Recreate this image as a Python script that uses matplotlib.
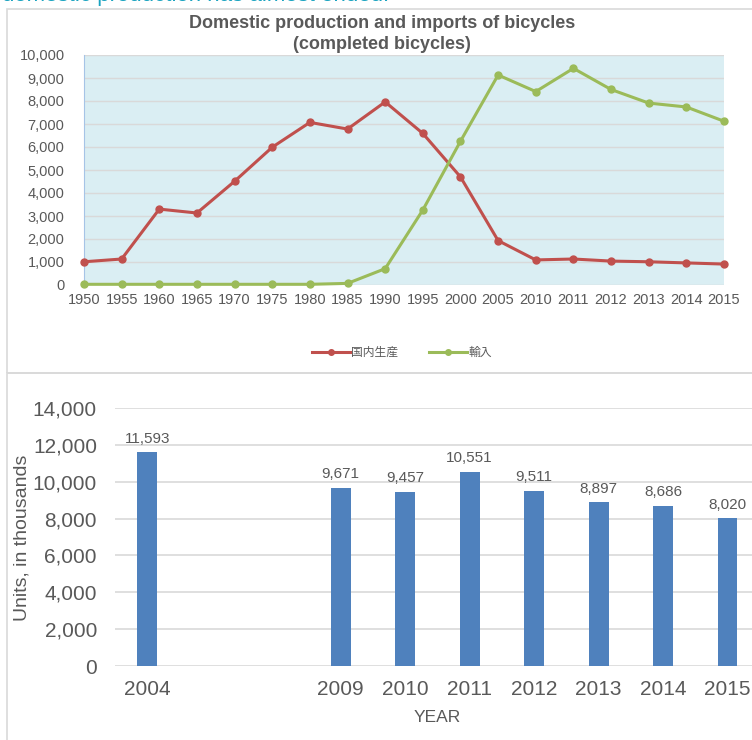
import numpy as np
import matplotlib
matplotlib.use('Agg')
import matplotlib.pyplot as plt
from matplotlib.patches import Rectangle

plt.rcParams['font.family'] = ['Liberation Sans', 'Noto Sans CJK JP', 'DejaVu Sans']

# top chart data (thousands of bicycles)
years_top = ['1950', '1955', '1960', '1965', '1970', '1975', '1980', '1985', '1990',
             '1995', '2000', '2005', '2010', '2011', '2012', '2013', '2014', '2015']
domestic = [1010, 1130, 3300, 3130, 4510, 5990, 7070, 6780, 7960,
            6590, 4700, 1930, 1090, 1130, 1040, 1010, 960, 910]
imports = [30, 30, 30, 30, 30, 30, 30, 70, 710,
           3260, 6250, 9130, 8410, 9420, 8500, 7910, 7740, 7120]

# bottom chart data
years_bot = ['2004', '2009', '2010', '2011', '2012', '2013', '2014', '2015']
slots_bot = [0, 3, 4, 5, 6, 7, 8, 9]
units = [11593, 9671, 9457, 10551, 9511, 8897, 8686, 8020]

gray = '#595959'
grid = '#D9D9D9'
W, H = 752, 740

fig = plt.figure(figsize=(7.52, 7.40), dpi=100)

# caption cut off at top, as in the source screenshot
fig.text(2 / W, 1 + 4 / H, 'domestic production has almost ended.', color='#1AA3C0',
         fontsize=16, ha='left', va='center')

# panel borders
fig.patches.append(Rectangle((7 / W, 1 - 373 / H), 1.2, 364 / H, transform=fig.transFigure,
                             fill=False, edgecolor='#D9D9D9', lw=1.2))
fig.patches.append(Rectangle((7 / W, -0.1), 1.2, 0.1 + 1 - 373 / H, transform=fig.transFigure,
                             fill=False, edgecolor='#D9D9D9', lw=1.2))

# ---- top line chart
ax1 = fig.add_axes([84 / W, 1 - 285 / H, 640 / W, 230 / H])
ax1.set_facecolor('#DAEEF3')
x = np.arange(len(years_top))
ax1.plot(x, domestic, color='#C0504D', lw=2.2, marker='o', ms=5, label='国内生産', clip_on=False, zorder=3)
ax1.plot(x, imports, color='#9BBB59', lw=2.2, marker='o', ms=5, label='輸入', clip_on=False, zorder=3)
ax1.set_xlim(0, len(years_top) - 1)
ax1.set_ylim(0, 10000)
ax1.set_yticks(range(0, 10001, 1000))
ax1.set_yticklabels([f'{v:,}' for v in range(0, 10001, 1000)])
ax1.set_xticks(x)
ax1.set_xticklabels(years_top)
ax1.grid(axis='y', color=grid, lw=1)
ax1.set_axisbelow(True)
for s in ['top', 'right', 'bottom']:
    ax1.spines[s].set_visible(False)
ax1.spines['left'].set_color('#A6C4E6')
ax1.tick_params(length=0, labelsize=10.5, labelcolor=gray, pad=6)
ax1.tick_params(axis='y', pad=14)
fig.text(382 / W, 1 - 34 / H, 'Domestic production and imports of bicycles\n(completed bicycles)',
         ha='center', va='center', fontsize=13, fontweight='bold', color=gray, linespacing=1.3)
leg = ax1.legend(loc='center', bbox_to_anchor=(402 / W, 1 - 353 / H), bbox_transform=fig.transFigure,
                 ncol=2, frameon=False, fontsize=8.5, handlelength=3.2, handletextpad=0.1,
                 columnspacing=2.6, markerscale=0.8)
for t in leg.get_texts():
    t.set_color(gray)

# ---- bottom bar chart
ax2 = fig.add_axes([115 / W, 0.1, 1 - 115 / W, 258 / H])
bars = ax2.bar(slots_bot, units, width=0.31, color='#4F81BD', zorder=3)
for xs, v in zip(slots_bot, units):
    ax2.text(xs, v + 350, f'{v:,}', ha='center', va='bottom', fontsize=11, color=gray)
ax2.set_xlim(-0.5, 9.38)
ax2.set_ylim(0, 14000)
ax2.set_yticks(range(0, 14001, 2000))
ax2.set_yticklabels([f'{v:,}' for v in range(0, 14001, 2000)])
ax2.set_xticks(slots_bot)
ax2.set_xticklabels(years_bot)
ax2.grid(axis='y', color=grid, lw=1.2)
for s in ax2.spines.values():
    s.set_visible(False)
ax2.tick_params(length=0, labelsize=15, labelcolor=gray)
ax2.tick_params(axis='x', pad=10)
ax2.tick_params(axis='y', pad=13)
fig.text(22 / W, 1 - 538 / H, 'Units, in thousands', rotation=90, ha='center', va='center',
         fontsize=14, color=gray)
fig.text(437 / W, 1 - 718 / H, 'YEAR', ha='center', va='center', fontsize=12.5, color=gray)

fig.savefig('out.png', dpi=100)
